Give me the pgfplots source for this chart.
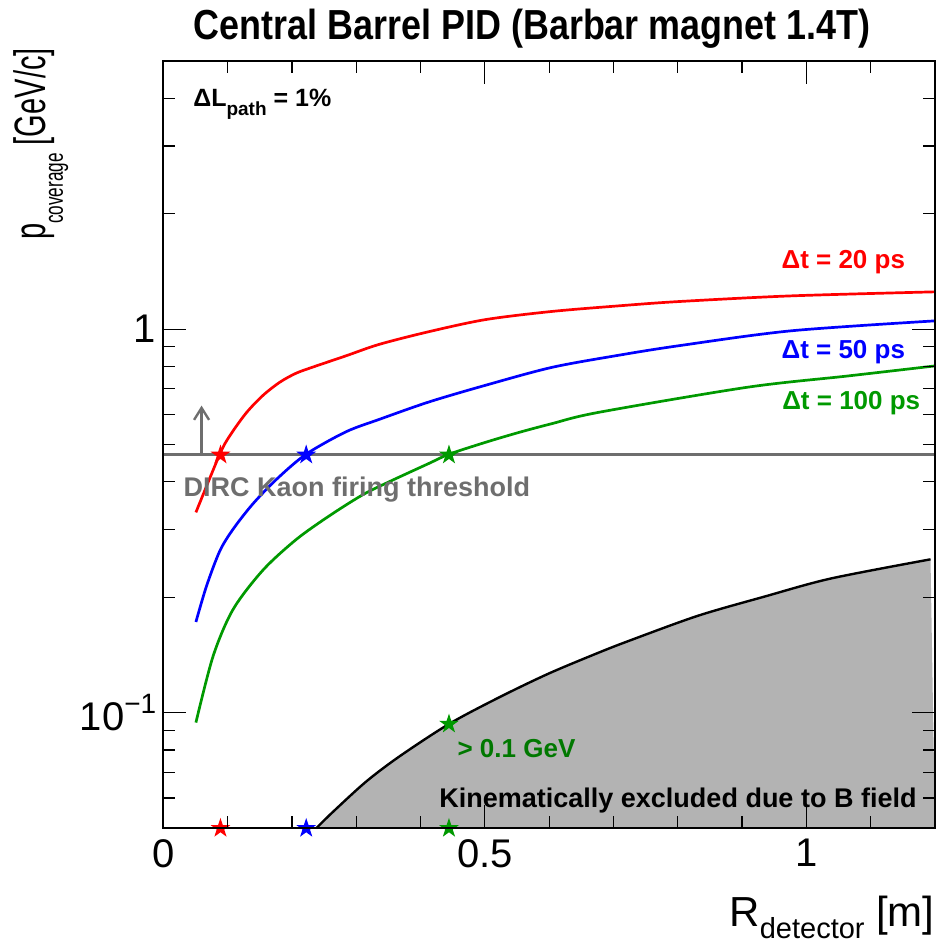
\documentclass[border=0pt]{standalone}
\usepackage{pgfplots}
\pgfplotsset{compat=1.18}
\usepgfplotslibrary{fillbetween}
\usepackage{graphicx}
\usepackage{fontspec}
\setmainfont{Liberation Sans}
\usetikzlibrary{arrows.meta}
\definecolor{rgreen}{RGB}{0,153,0}
\definecolor{dgreen}{RGB}{0,120,0}
\definecolor{lgray}{RGB}{110,110,110}
\definecolor{fgray}{RGB}{179,179,179}
\pgfdeclareplotmark{fstar}{%
 \pgfpathmoveto{\pgfpointpolar{90}{\pgfplotmarksize}}%
 \pgfpathlineto{\pgfpointpolar{126}{0.382\pgfplotmarksize}}%
 \pgfpathlineto{\pgfpointpolar{162}{\pgfplotmarksize}}%
 \pgfpathlineto{\pgfpointpolar{198}{0.382\pgfplotmarksize}}%
 \pgfpathlineto{\pgfpointpolar{234}{\pgfplotmarksize}}%
 \pgfpathlineto{\pgfpointpolar{270}{0.382\pgfplotmarksize}}%
 \pgfpathlineto{\pgfpointpolar{306}{\pgfplotmarksize}}%
 \pgfpathlineto{\pgfpointpolar{342}{0.382\pgfplotmarksize}}%
 \pgfpathlineto{\pgfpointpolar{18}{\pgfplotmarksize}}%
 \pgfpathlineto{\pgfpointpolar{54}{0.382\pgfplotmarksize}}%
 \pgfpathclose
 \pgfusepathqfill}
\pgfplotstableread{
x y
0.2377 0.0500
0.2634 0.0551
0.3150 0.0661
0.3668 0.0769
0.4442 0.0935
0.5217 0.1096
0.5990 0.1265
0.6770 0.1435
0.7280 0.1549
0.8316 0.1791
0.9350 0.2009
1.0380 0.2239
1.1930 0.2512
}\boundary
\pgfplotstableread{
x y
0.0507 0.333
0.0878 0.472
0.1033 0.527
0.1290 0.605
0.1550 0.672
0.1810 0.727
0.2060 0.767
0.2320 0.796
0.2840 0.852
0.3360 0.913
0.4130 0.985
0.5010 1.059
0.6040 1.112
0.7080 1.150
0.8010 1.180
0.9760 1.221
1.2000 1.251
}\redc
\pgfplotstableread{
x y
0.0507 0.1725
0.0672 0.214
0.0878 0.264
0.1085 0.301
0.1390 0.350
0.1760 0.406
0.2220 0.472
0.2840 0.540
0.3360 0.582
0.4130 0.646
0.5010 0.714
0.6040 0.795
0.7080 0.855
0.8010 0.905
0.9760 0.990
1.2000 1.051
}\bluec
\pgfplotstableread{
x y
0.0507 0.0943
0.0775 0.1406
0.1085 0.186
0.1550 0.2355
0.2067 0.283
0.2580 0.326
0.3100 0.370
0.3510 0.400
0.4130 0.4467
0.4442 0.472
0.5010 0.507
0.5530 0.538
0.6040 0.567
0.6770 0.607
0.9090 0.706
1.0640 0.755
1.2000 0.802
}\greenc
\begin{document}
\begin{tikzpicture}
\begin{axis}[name=ax, scale only axis, width=385.85pt, height=383.65pt,
  xmin=0, xmax=1.2, ymode=log, ymin=0.05, ymax=5,
  xtick={0,0.5,1}, xticklabels={0,0.5,1},
  minor xtick={0.1,0.2,0.3,0.4,0.6,0.7,0.8,0.9,1.1},
  ytick={0.1,1}, yticklabels={{10\raisebox{0.42em}{\fontsize{14}{14}\selectfont −1}},1},
  minor ytick={0.05,0.06,0.07,0.08,0.09,0.2,0.3,0.4,0.5,0.6,0.7,0.8,0.9,2,3,4,5},
  tick align=inside, major tick length=11.5pt, minor tick length=6pt,
  axis line style={line width=0.9pt},
  every tick/.style={black, line width=0.6pt},
  tick label style={font=\fontsize{20}{20}\selectfont},
  xticklabel style={yshift=-2pt},
  clip=false, axis on top,
  title={\scalebox{0.855}[1]{Central Barrel PID (Barbar magnet 1.4T)}},
  title style={font=\fontsize{21}{21}\selectfont\bfseries, at={(rel axis cs:0.478,1.013)}, anchor=base, inner sep=0pt},
  xlabel={R\raisebox{-0.28em}{\fontsize{14.5}{14.5}\selectfont detector} [m]},
  xlabel style={font=\fontsize{21}{21}\selectfont, at={(rel axis cs:1,-0.128)}, anchor=base east, inner sep=0pt},
  ylabel={\scalebox{0.66}[1]{p\raisebox{-0.4em}{\fontsize{13}{13}\selectfont coverage} [GeV/c]}},
  ylabel style={font=\fontsize{22}{22}\selectfont, at={(rel axis cs:-0.153,1.017)}, anchor=base east, inner sep=0pt, rotate=0},
]
% kinematically excluded region
\addplot[name path=B, draw=none, smooth, tension=0.5, forget plot] table[x=x,y=y] {\boundary};
\path[name path=bot] (axis cs:0.2377,0.05) -- (axis cs:1.2,0.05);
\addplot[fgray] fill between[of=B and bot];
\addplot[black, line width=1.2pt, smooth, tension=0.5] table[x=x,y=y] {\boundary};
% threshold
\addplot[lgray, line width=1.5pt] coordinates {(0,0.47) (1.2,0.47)};
\draw[lgray, line width=1.2pt, -{Straight Barb[length=6pt,width=7.5pt]}] (axis cs:0.0595,0.47) -- (axis cs:0.0595,0.632);
% curves
\addplot[red, line width=1.35pt, smooth, tension=0.5] table[x=x,y=y] {\redc};
\addplot[blue, line width=1.35pt, smooth, tension=0.5] table[x=x,y=y] {\bluec};
\addplot[rgreen, line width=1.35pt, smooth, tension=0.5] table[x=x,y=y] {\greenc};
% stars
\addplot[only marks, mark=fstar, mark size=5.2pt, red] coordinates {(0.0889,0.47) (0.0889,0.05)};
\addplot[only marks, mark=fstar, mark size=5.2pt, blue] coordinates {(0.2222,0.47) (0.2222,0.05)};
\addplot[only marks, mark=fstar, mark size=5.2pt, rgreen] coordinates {(0.4442,0.47) (0.4442,0.0935) (0.4442,0.05)};
% texts
\node[anchor=base west, inner sep=0pt, font=\fontsize{12.5}{12.5}\selectfont\bfseries] at (axis cs:0.046,3.8) {ΔL\raisebox{-0.35em}{\fontsize{9.5}{9.5}\selectfont path} = 1\%};
\node[anchor=base east, inner sep=0pt, red, font=\fontsize{13}{13}\selectfont\bfseries] at (axis cs:1.154,1.44) {Δt = 20 ps};
\node[anchor=base east, inner sep=0pt, blue, font=\fontsize{13}{13}\selectfont\bfseries] at (axis cs:1.154,0.8386) {Δt = 50 ps};
\node[anchor=base east, inner sep=0pt, rgreen, font=\fontsize{13}{13}\selectfont\bfseries] at (axis cs:1.1776,0.6184) {Δt = 100 ps};
\node[anchor=base west, inner sep=0pt, lgray, font=\fontsize{13.5}{13.5}\selectfont\bfseries] at (axis cs:0.031,0.3663) {DIRC Kaon firing threshold};
\node[anchor=base west, inner sep=0pt, dgreen, font=\fontsize{13}{13}\selectfont\bfseries] at (axis cs:0.457,0.07638) {> 0.1 GeV};
\node[anchor=base west, inner sep=0pt, black, font=\fontsize{13.5}{13.5}\selectfont\bfseries] at (axis cs:0.4287,0.05659) {Kinematically excluded due to B field};
\end{axis}
\pgfresetboundingbox
\path[use as bounding box] ([xshift=-81.65pt,yshift=-60.35pt]ax.south west) rectangle ([xshift=2pt,yshift=30.5pt]ax.north east);
\end{tikzpicture}
\end{document}
